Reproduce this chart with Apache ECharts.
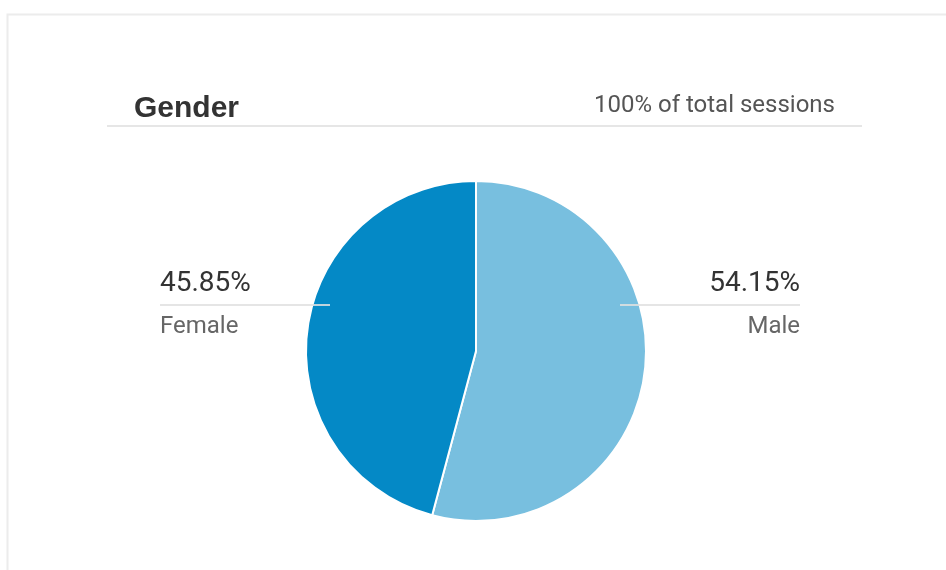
<!DOCTYPE html>
<html>
<head>
<meta charset="utf-8">
<script src="https://cdn.jsdelivr.net/npm/echarts@6/dist/echarts.min.js"></script>
<style>html,body{margin:0;padding:0;background:#fff}#c{width:946px;height:570px}</style>
</head>
<body>
<div id="c"></div>
<script>
const categories = ['Male', 'Female'];
const values = [54.15, 45.85];
const colors = ['#78bfdf', '#0489c6'];
const titleText = 'Gender';
const subText = '100% of total sessions';

const chart = echarts.init(document.getElementById('c'), null, {renderer: 'canvas'});
const cx = 476, cy = 351, r = 170;
const labelY = 305;

chart.setOption({
  animation: false,
  title: [
    {text: titleText, left: 129, top: 89, textStyle: {fontFamily: 'Liberation Sans', fontWeight: 'bold', fontSize: 30, color: '#333'}},
    {text: subText, right: 106, top: 89, textStyle: {fontFamily: 'Roboto', fontWeight: 'normal', fontSize: 24, color: '#555'}}
  ],
  graphic: [
    {type: 'rect', shape: {x: 7.5, y: 14.5, width: 1000, height: 600}, style: {fill: 'none', stroke: '#ececec', lineWidth: 2}, z: -1},
    {type: 'line', shape: {x1: 107, y1: 126, x2: 862, y2: 126}, style: {stroke: '#e6e6e6', lineWidth: 2}},
    {type: 'line', shape: {x1: 160, y1: labelY, x2: 330, y2: labelY}, style: {stroke: '#e0e0e0', lineWidth: 2, opacity: 0.85}, z: 100},
    {type: 'line', shape: {x1: 620, y1: labelY, x2: 800, y2: labelY}, style: {stroke: '#e0e0e0', lineWidth: 2, opacity: 0.85}, z: 100}
  ],
  series: [{
    type: 'pie',
    center: [cx, cy],
    radius: [0, r],
    startAngle: 90,
    clockwise: true,
    data: categories.map((c, i) => ({name: c, value: values[i], itemStyle: {color: colors[i]}})),
    itemStyle: {borderColor: '#fff', borderWidth: 2},
    label: {
      show: true,
      formatter: p => '{v|' + p.value.toFixed(2) + '%}\n{n|' + p.name + '}',
      rich: {
        v: {fontFamily: 'Roboto', fontSize: 28, color: '#333', lineHeight: 42},
        n: {fontFamily: 'Roboto', fontSize: 24, color: '#666', lineHeight: 44}
      }
    },
    labelLine: {show: false},
    labelLayout: function (params) {
      if (params.dataIndex === 1) {
        return {x: 160, y: labelY + 1, align: 'left', verticalAlign: 'middle'};
      }
      return {x: 800, y: labelY + 1, align: 'right', verticalAlign: 'middle'};
    },
    emphasis: {disabled: true}
  }]
});
</script>
</body>
</html>
